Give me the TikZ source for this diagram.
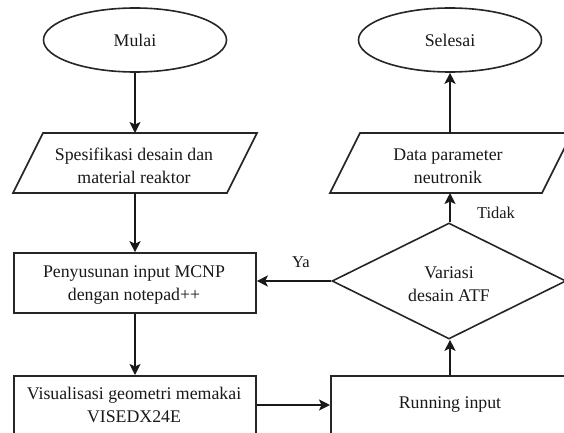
\documentclass[tikz,border=0pt]{standalone}
\usepackage{fontspec}
\setmainfont{Liberation Serif}
\usetikzlibrary{shapes.geometric,arrows.meta}
\begin{document}
\begin{tikzpicture}[x=1pt,y=-1pt,
  every node/.style={font=\fontsize{17.8}{23}\selectfont, text=black!90, align=center, inner sep=0pt},
  shp/.style={draw=black!85, line width=1.6pt},
  term/.style={shp, ellipse, minimum width=183pt, minimum height=64pt},
  box/.style={shp, rectangle},
  dec/.style={shp, diamond, minimum width=234pt, minimum height=116pt},
  lbl/.style={font=\fontsize{16.5}{20}\selectfont},
  arr/.style={draw=black!90, line width=1.6pt, -{Stealth[length=11pt,width=11pt,inset=2.5pt]}}]
\useasboundingbox (0,0) rectangle (564,433);
\clip (0,0) rectangle (564,433);
\fill[white] (0,0) rectangle (564,433);
% terminals
\node[term] (mulai) at (135,40) {Mulai};
\node[term] (selesai) at (450,40) {Selesai};
% parallelograms
\draw[shp] (43,133) -- (257,133) -- (227,193) -- (13,193) -- cycle;
\node (spek) at (134,166) {Spesifikasi desain dan\\material reaktor};
\coordinate (spekN) at (135,133);
\coordinate (spekS) at (135,193);
\draw[shp] (360,133) -- (572,133) -- (542,193) -- (330,193) -- cycle;
\node (data) at (448,166) {Data parameter\\neutronik};
\coordinate (dataN) at (450,133);
\coordinate (dataS) at (450,193);
% rectangles
\node[box, minimum width=242pt, minimum height=60pt] (susun) at (135,283) {};
\node at (134,285) {Penyusunan input MCNP\\dengan notepad++};
\node[box, minimum width=242pt, minimum height=60pt, anchor=north] (visual) at (135,375) {};
\node at (134,405) {Visualisasi geometri memakai\\VISEDX24E};
\node[box, minimum width=250pt, minimum height=80pt, anchor=north west] (run) at (330,375) {};
\node at (450,405) {Running input};
% decision
\node[dec] (var) at (449,281) {};
\node at (449,284) {Variasi\\desain ATF};
% connectors
\draw[arr] (mulai.south) -- (spekN);
\draw[arr] (spekS) -- (susun.north);
\draw[arr] (susun.south) -- (visual.north);
\draw[arr] (visual.east |- 0,405) -- (run.west |- 0,405);
\draw[arr] (run.north -| 450,0) -- (var.south -| 450,0);
\draw[arr] (var.west) -- (susun.east |- var.west);
\node[lbl] (ya) at (301,262) {Ya};
\draw[arr] (var.north -| 450,0) -- (dataS);
\node[lbl] (tidak) at (496,213) {Tidak};
\draw[arr] (dataN) -- (selesai.south);
\end{tikzpicture}
\end{document}
